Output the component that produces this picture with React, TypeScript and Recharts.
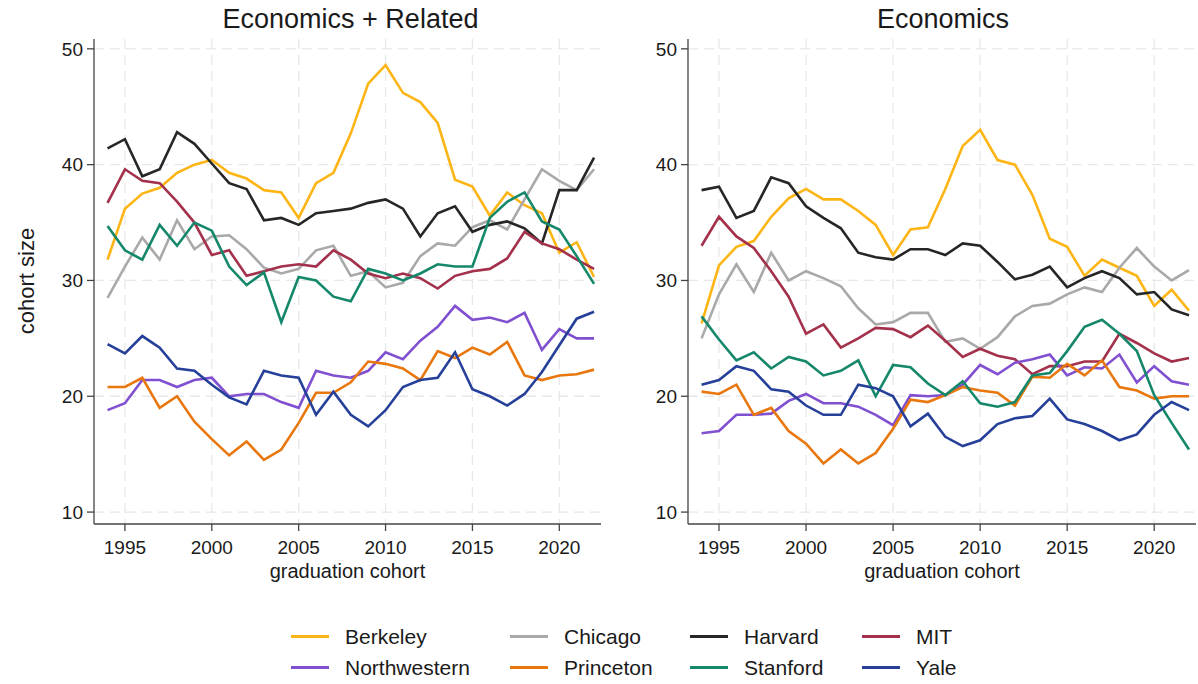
import { LineChart, Line, XAxis, YAxis, CartesianGrid, Label } from 'recharts'

const years = [
  1994, 1995, 1996, 1997, 1998, 1999, 2000, 2001, 2002, 2003,
  2004, 2005, 2006, 2007, 2008, 2009, 2010, 2011, 2012, 2013,
  2014, 2015, 2016, 2017, 2018, 2019, 2020, 2021, 2022,
]

const schools = ['Berkeley', 'Chicago', 'Harvard', 'MIT', 'Northwestern', 'Princeton', 'Stanford', 'Yale']

const colors: Record<string, string> = {
  Berkeley: '#FDB515',
  Chicago: '#A9A9A9',
  Harvard: '#262626',
  MIT: '#A4314B',
  Northwestern: '#8050D0',
  Princeton: '#E8770E',
  Stanford: '#15876A',
  Yale: '#26409A',
}

// Economics + Related
const relBerkeley = [31.8, 36.2, 37.5, 38.0, 39.3, 40.0, 40.4, 39.3, 38.8, 37.8, 37.6, 35.4, 38.4, 39.3, 42.7, 47.0, 48.6, 46.2, 45.4, 43.6, 38.7, 38.1, 35.6, 37.6, 36.5, 35.8, 32.4, 33.3, 30.3]
const relChicago = [28.5, 31.2, 33.7, 31.8, 35.2, 32.7, 33.8, 33.9, 32.7, 31.1, 30.6, 31.0, 32.6, 33.0, 30.4, 30.8, 29.4, 29.8, 32.1, 33.2, 33.0, 34.6, 35.2, 34.4, 37.0, 39.6, 38.6, 37.8, 39.6]
const relHarvard = [41.4, 42.2, 39.0, 39.6, 42.8, 41.8, 40.1, 38.4, 37.9, 35.2, 35.4, 34.8, 35.8, 36.0, 36.2, 36.7, 37.0, 36.2, 33.8, 35.8, 36.4, 34.2, 34.8, 35.1, 34.5, 33.2, 37.8, 37.8, 40.6]
const relMIT = [36.7, 39.6, 38.6, 38.4, 36.8, 35.0, 32.2, 32.6, 30.4, 30.8, 31.2, 31.4, 31.2, 32.6, 31.8, 30.6, 30.2, 30.6, 30.2, 29.3, 30.4, 30.8, 31.0, 31.9, 34.2, 33.2, 32.7, 31.8, 31.0]
const relNorthwestern = [18.8, 19.4, 21.4, 21.4, 20.8, 21.4, 21.6, 20.0, 20.2, 20.2, 19.5, 19.0, 22.2, 21.8, 21.6, 22.2, 23.8, 23.2, 24.8, 26.0, 27.8, 26.6, 26.8, 26.4, 27.2, 24.0, 25.8, 25.0, 25.0]
const relPrinceton = [20.8, 20.8, 21.6, 19.0, 20.0, 17.8, 16.3, 14.9, 16.1, 14.5, 15.4, 17.7, 20.3, 20.3, 21.2, 23.0, 22.8, 22.4, 21.4, 23.9, 23.3, 24.2, 23.6, 24.7, 21.8, 21.4, 21.8, 21.9, 22.3]
const relStanford = [34.7, 32.6, 31.8, 34.8, 33.0, 35.0, 34.3, 31.2, 29.6, 30.7, 26.4, 30.3, 30.0, 28.6, 28.2, 31.0, 30.6, 30.0, 30.6, 31.4, 31.2, 31.2, 35.4, 36.8, 37.6, 35.1, 34.4, 32.1, 29.7]
const relYale = [24.5, 23.7, 25.2, 24.2, 22.4, 22.2, 21.0, 19.9, 19.3, 22.2, 21.8, 21.6, 18.4, 20.4, 18.4, 17.4, 18.8, 20.8, 21.4, 21.6, 23.8, 20.6, 20.0, 19.2, 20.2, 22.1, 24.4, 26.7, 27.3]

// Economics
const ecoBerkeley = [26.3, 31.3, 32.9, 33.4, 35.5, 37.1, 37.9, 37.0, 37.0, 36.0, 34.8, 32.2, 34.4, 34.6, 37.9, 41.6, 43.0, 40.4, 40.0, 37.4, 33.6, 32.9, 30.4, 31.8, 31.1, 30.4, 27.8, 29.2, 27.4]
const ecoChicago = [25.0, 28.8, 31.4, 29.0, 32.4, 30.0, 30.8, 30.2, 29.5, 27.6, 26.2, 26.4, 27.2, 27.2, 24.7, 25.0, 24.1, 25.1, 26.9, 27.8, 28.0, 28.8, 29.4, 29.0, 31.1, 32.8, 31.2, 30.0, 30.9]
const ecoHarvard = [37.8, 38.1, 35.4, 36.0, 38.9, 38.4, 36.4, 35.4, 34.5, 32.4, 32.0, 31.8, 32.7, 32.7, 32.2, 33.2, 33.0, 31.6, 30.1, 30.5, 31.2, 29.4, 30.2, 30.8, 30.2, 28.8, 29.0, 27.5, 27.0]
const ecoMIT = [33.0, 35.5, 33.8, 32.8, 30.8, 28.6, 25.4, 26.2, 24.2, 25.0, 25.9, 25.8, 25.1, 26.1, 24.8, 23.4, 24.1, 23.5, 23.2, 21.9, 22.6, 22.6, 23.0, 23.0, 25.4, 24.6, 23.7, 23.0, 23.3]
const ecoNorthwestern = [16.8, 17.0, 18.4, 18.4, 18.5, 19.6, 20.2, 19.4, 19.4, 19.1, 18.4, 17.5, 20.1, 20.0, 20.1, 21.0, 22.7, 21.9, 22.9, 23.2, 23.6, 21.8, 22.5, 22.4, 23.6, 21.2, 22.6, 21.3, 21.0]
const ecoPrinceton = [20.4, 20.2, 21.0, 18.4, 19.0, 17.0, 15.9, 14.2, 15.4, 14.2, 15.1, 17.2, 19.7, 19.5, 20.1, 20.8, 20.5, 20.3, 19.2, 21.7, 21.6, 22.8, 21.8, 23.1, 20.8, 20.5, 19.8, 20.0, 20.0]
const ecoStanford = [26.9, 24.9, 23.1, 23.8, 22.4, 23.4, 23.0, 21.8, 22.2, 23.1, 20.0, 22.7, 22.5, 21.1, 20.1, 21.3, 19.4, 19.1, 19.5, 21.8, 22.0, 23.9, 26.0, 26.6, 25.4, 23.9, 20.1, 17.7, 15.4]
const ecoYale = [21.0, 21.4, 22.6, 22.2, 20.6, 20.4, 19.2, 18.4, 18.4, 21.0, 20.7, 20.0, 17.4, 18.5, 16.5, 15.7, 16.2, 17.6, 18.1, 18.3, 19.8, 18.0, 17.6, 17.0, 16.2, 16.7, 18.4, 19.5, 18.8]

const xTicks = [1995, 2000, 2005, 2010, 2015, 2020]
const yTicks = [10, 20, 30, 40, 50]

function buildRows(series: Record<string, number[]>) {
  return years.map((year, i) => {
    const row: Record<string, number> = { year }
    schools.forEach((s) => (row[s] = series[s][i]))
    return row
  })
}

const relatedRows = buildRows({
  Berkeley: relBerkeley, Chicago: relChicago, Harvard: relHarvard, MIT: relMIT,
  Northwestern: relNorthwestern, Princeton: relPrinceton, Stanford: relStanford, Yale: relYale,
})
const econRows = buildRows({
  Berkeley: ecoBerkeley, Chicago: ecoChicago, Harvard: ecoHarvard, MIT: ecoMIT,
  Northwestern: ecoNorthwestern, Princeton: ecoPrinceton, Stanford: ecoStanford, Yale: ecoYale,
})

const ink = '#1a1a1a'
const axisColor = '#444'

function Panel({ rows, left, width, axisWidth, right }: { rows: Record<string, number>[]; left: number; width: number; axisWidth: number; right: number }) {
  return (
    <div style={{ position: 'absolute', left, top: 0 }}>
      <LineChart width={width} height={590} data={rows} margin={{ top: 39, right, bottom: 0, left: 0 }}>
        <CartesianGrid stroke="#e8e8e8" strokeDasharray="10 6" strokeWidth={1.3} syncWithTicks />
        <XAxis
          dataKey="year"
          type="number"
          domain={[1993.22, 2022.4]}
          ticks={xTicks}
          allowDataOverflow
          height={66}
          tickSize={7}
          tickMargin={10}
          tick={{ fontSize: 19, fill: ink }}
          axisLine={{ stroke: axisColor, strokeWidth: 1.3 }}
          tickLine={{ stroke: axisColor, strokeWidth: 1.3 }}
        >
          <Label value="graduation cohort" position="insideBottom" offset={12} style={{ fontSize: 20, fill: ink }} />
        </XAxis>
        <YAxis
          type="number"
          domain={[8.97, 50.85]}
          ticks={yTicks}
          allowDataOverflow
          width={axisWidth}
          tickSize={7}
          tickMargin={4}
          tick={{ fontSize: 19, fill: ink }}
          axisLine={{ stroke: axisColor, strokeWidth: 1.3 }}
          tickLine={{ stroke: axisColor, strokeWidth: 1.3 }}
        />
        {schools.map((s) => (
          <Line key={s} type="linear" dataKey={s} stroke={colors[s]} strokeWidth={2.6} dot={false} isAnimationActive={false} />
        ))}
      </LineChart>
    </div>
  )
}

const titleStyle: React.CSSProperties = {
  position: 'absolute', top: 6, fontSize: 27, lineHeight: '27px', textAlign: 'center', color: ink,
}

export default function App() {
  return (
    <div style={{ position: 'absolute', left: 0, top: 0, width: 1198, height: 684, background: '#fff', fontFamily: '"Liberation Sans", Arial, sans-serif', overflow: 'hidden' }}>
      <div style={{ ...titleStyle, left: 97, width: 507 }}>Economics + Related</div>
      <div style={{ ...titleStyle, left: 688, width: 510 }}>Economics</div>
      <div style={{ position: 'absolute', left: 27, top: 281, transform: 'translate(-50%, -50%) rotate(-90deg)', fontSize: 22, color: ink, whiteSpace: 'nowrap' }}>
        cohort size
      </div>
      <Panel rows={relatedRows} left={0} width={610} axisWidth={94} right={9} />
      <Panel rows={econRows} left={610} width={588} axisWidth={78} right={2} />
      <div style={{ position: 'absolute', left: 291, top: 621, display: 'grid', gridTemplateColumns: '219px 180px 172px 120px', gridAutoRows: '31px', alignItems: 'center', fontSize: 21, color: ink }}>
        {schools.map((s) => (
          <div key={s} style={{ display: 'flex', alignItems: 'center', whiteSpace: 'nowrap' }}>
            <span style={{ display: 'inline-block', width: 38, height: 3, background: colors[s], marginRight: 16 }} />
            {s}
          </div>
        ))}
      </div>
    </div>
  )
}
